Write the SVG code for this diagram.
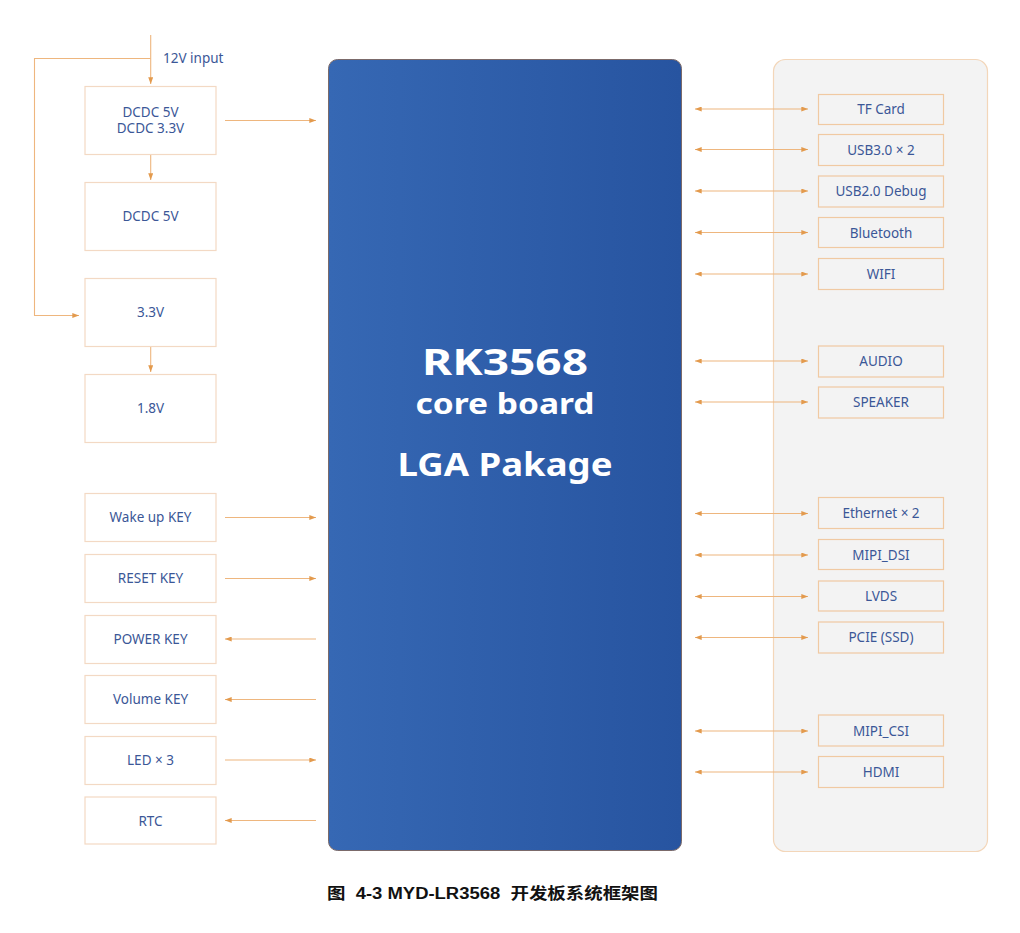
<svg xmlns="http://www.w3.org/2000/svg" width="1020" height="933" viewBox="0 0 1020 933">
<style>
.lbox{fill:#ffffff;stroke:#f3d9c4;stroke-width:1.2}
.rbox{fill:#f3f3f3;stroke:#f0c9a2;stroke-width:1.2}
.t{font-family:"Noto Sans","Liberation Sans",sans-serif;font-size:13.5px;fill:#3b5797;text-anchor:middle}
.c{fill:none;stroke:#eeb67e;stroke-width:1.1}
.big{font-family:"Noto Sans","Liberation Sans",sans-serif;font-weight:bold;fill:#ffffff;text-anchor:middle}
</style>
<defs>
<linearGradient id="g" x1="0" y1="0" x2="1" y2="0">
<stop offset="0" stop-color="#3668b4"/>
<stop offset="1" stop-color="#2754a0"/>
</linearGradient>
<marker id="ah" viewBox="0 0 8 6" refX="8" refY="3" markerWidth="7" markerHeight="5" orient="auto-start-reverse" markerUnits="userSpaceOnUse">
<path d="M0,0 L8,3 L0,6 Z" fill="#e39a4d"/>
</marker>
</defs>
<rect width="1020" height="933" fill="#ffffff"/>

<g id="panel">
<rect x="773.5" y="59.5" width="214" height="792" rx="12" fill="#f3f3f3" stroke="#f3d6b9" stroke-width="1.2"/>
</g>

<g id="core">
<rect x="328.5" y="59.5" width="353" height="791" rx="9" fill="url(#g)" stroke="#7b6a6a" stroke-width="1"/>
<text class="big" x="505" y="375" font-size="35" textLength="166" lengthAdjust="spacingAndGlyphs">RK3568</text>
<text class="big" x="505" y="414" font-size="29" textLength="179" lengthAdjust="spacingAndGlyphs">core board</text>
<text class="big" x="505" y="476" font-size="33" textLength="215" lengthAdjust="spacingAndGlyphs">LGA Pakage</text>
</g>

<g id="connectors">
<path class="c" d="M150.7,35 V84" marker-end="url(#ah)"/>
<path class="c" d="M150.7,58.5 H34.5 V315.5 H79" marker-end="url(#ah)"/>
<path class="c" d="M150.7,155 V180" marker-end="url(#ah)"/>
<path class="c" d="M150.7,347 V372" marker-end="url(#ah)"/>
<path class="c" d="M225,120.5 H316" marker-end="url(#ah)"/>
<path class="c" d="M225,517.5 H316" marker-end="url(#ah)"/>
<path class="c" d="M225,578.5 H316" marker-end="url(#ah)"/>
<path class="c" d="M316,639 H225" marker-end="url(#ah)"/>
<path class="c" d="M316,699.5 H225" marker-end="url(#ah)"/>
<path class="c" d="M225,760 H316" marker-end="url(#ah)"/>
<path class="c" d="M316,820.5 H225" marker-end="url(#ah)"/>
<path class="c" d="M695,109 H808" marker-start="url(#ah)" marker-end="url(#ah)"/>
<path class="c" d="M695,149.5 H808" marker-start="url(#ah)" marker-end="url(#ah)"/>
<path class="c" d="M695,191 H808" marker-start="url(#ah)" marker-end="url(#ah)"/>
<path class="c" d="M695,232.5 H808" marker-start="url(#ah)" marker-end="url(#ah)"/>
<path class="c" d="M695,274 H808" marker-start="url(#ah)" marker-end="url(#ah)"/>
<path class="c" d="M695,361 H808" marker-start="url(#ah)" marker-end="url(#ah)"/>
<path class="c" d="M695,402 H808" marker-start="url(#ah)" marker-end="url(#ah)"/>
<path class="c" d="M695,513.5 H808" marker-start="url(#ah)" marker-end="url(#ah)"/>
<path class="c" d="M695,555 H808" marker-start="url(#ah)" marker-end="url(#ah)"/>
<path class="c" d="M695,596.5 H808" marker-start="url(#ah)" marker-end="url(#ah)"/>
<path class="c" d="M695,637.5 H808" marker-start="url(#ah)" marker-end="url(#ah)"/>
<path class="c" d="M695,731 H808" marker-start="url(#ah)" marker-end="url(#ah)"/>
<path class="c" d="M695,772 H808" marker-start="url(#ah)" marker-end="url(#ah)"/>
</g>

<text class="t" x="163" y="63" style="text-anchor:start">12V input</text>

<g id="dcdc1"><rect class="lbox" x="85" y="86.5" width="131" height="68"/><text class="t" x="150.5" y="117">DCDC 5V</text><text class="t" x="150.5" y="133">DCDC 3.3V</text></g>
<g id="dcdc2"><rect class="lbox" x="85" y="182.5" width="131" height="68"/><text class="t" x="150.5" y="221">DCDC 5V</text></g>
<g id="v33"><rect class="lbox" x="85" y="278.5" width="131" height="68"/><text class="t" x="150.5" y="317">3.3V</text></g>
<g id="v18"><rect class="lbox" x="85" y="374.5" width="131" height="68"/><text class="t" x="150.5" y="413">1.8V</text></g>

<g id="wake"><rect class="lbox" x="85" y="493.5" width="131" height="48"/><text class="t" x="150.5" y="522">Wake up KEY</text></g>
<g id="reset"><rect class="lbox" x="85" y="554.5" width="131" height="48"/><text class="t" x="150.5" y="583">RESET KEY</text></g>
<g id="power"><rect class="lbox" x="85" y="615.5" width="131" height="48"/><text class="t" x="150.5" y="643.5">POWER KEY</text></g>
<g id="volume"><rect class="lbox" x="85" y="675.5" width="131" height="48"/><text class="t" x="150.5" y="704">Volume KEY</text></g>
<g id="led"><rect class="lbox" x="85" y="736.5" width="131" height="48"/><text class="t" x="150.5" y="765">LED × 3</text></g>
<g id="rtc"><rect class="lbox" x="85" y="797" width="131" height="47"/><text class="t" x="150.5" y="825.5">RTC</text></g>

<g id="tf"><rect class="rbox" x="818.5" y="94.5" width="125" height="30"/><text class="t" x="881" y="114">TF Card</text></g>
<g id="usb3"><rect class="rbox" x="818.5" y="134.5" width="125" height="31"/><text class="t" x="881" y="154.5">USB3.0 × 2</text></g>
<g id="usb2"><rect class="rbox" x="818.5" y="176" width="125" height="31"/><text class="t" x="881" y="196">USB2.0 Debug</text></g>
<g id="bt"><rect class="rbox" x="818.5" y="217.5" width="125" height="30"/><text class="t" x="881" y="237.5">Bluetooth</text></g>
<g id="wifi"><rect class="rbox" x="818.5" y="258.5" width="125" height="31"/><text class="t" x="881" y="279">WIFI</text></g>
<g id="audio"><rect class="rbox" x="818.5" y="346" width="125" height="31"/><text class="t" x="881" y="366">AUDIO</text></g>
<g id="speaker"><rect class="rbox" x="818.5" y="387" width="125" height="31"/><text class="t" x="881" y="407">SPEAKER</text></g>
<g id="eth"><rect class="rbox" x="818.5" y="497.5" width="125" height="31"/><text class="t" x="881" y="518">Ethernet × 2</text></g>
<g id="dsi"><rect class="rbox" x="818.5" y="539.5" width="125" height="30"/><text class="t" x="881" y="559.5">MIPI_DSI</text></g>
<g id="lvds"><rect class="rbox" x="818.5" y="581" width="125" height="30"/><text class="t" x="881" y="601">LVDS</text></g>
<g id="pcie"><rect class="rbox" x="818.5" y="622" width="125" height="31"/><text class="t" x="881" y="642">PCIE (SSD)</text></g>
<g id="csi"><rect class="rbox" x="818.5" y="715" width="125" height="31"/><text class="t" x="881" y="735.5">MIPI_CSI</text></g>
<g id="hdmi"><rect class="rbox" x="818.5" y="756.5" width="125" height="31"/><text class="t" x="881" y="777">HDMI</text></g>

<text x="492.5" y="899" font-family="'Liberation Sans','Noto Sans CJK SC',sans-serif" font-weight="bold" font-size="16" fill="#111111" text-anchor="middle" textLength="331" lengthAdjust="spacingAndGlyphs" xml:space="preserve">图  4-3 MYD-LR3568  开发板系统框架图</text>
</svg>
